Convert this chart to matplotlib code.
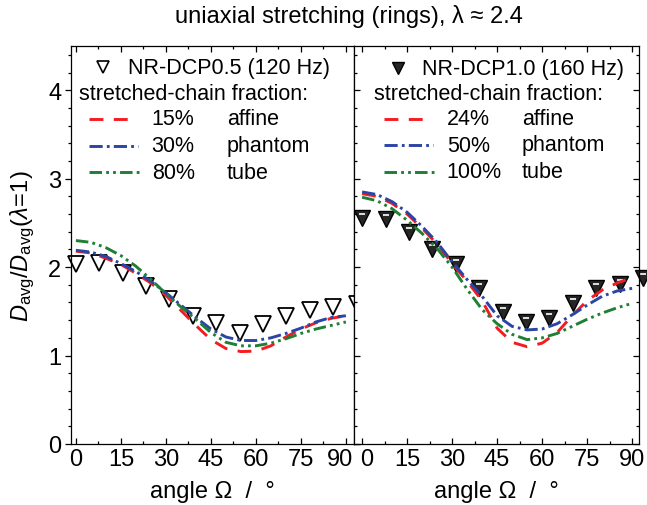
import matplotlib
matplotlib.use("Agg")
import matplotlib.pyplot as plt
from matplotlib.lines import Line2D
from matplotlib.path import Path
from matplotlib.ticker import MultipleLocator
from matplotlib.transforms import ScaledTranslation

plt.rcParams['font.family'] = ['Liberation Sans', 'DejaVu Sans']
plt.rcParams['mathtext.fontset'] = 'custom'
plt.rcParams['mathtext.rm'] = 'Liberation Sans'
plt.rcParams['mathtext.it'] = 'Liberation Sans:italic'
plt.rcParams['lines.scale_dashes'] = False

# measured points (both samples)
angle_exp = [0, 7.8, 15.6, 23.4, 31.2, 39.0, 46.8, 54.6, 62.4, 70.2, 78.0, 85.8, 93.6]
dcp05_exp = [2.03, 2.05, 1.93, 1.79, 1.64, 1.45, 1.37, 1.26, 1.36, 1.45, 1.52, 1.55, 1.58]
dcp10_exp = [2.55, 2.54, 2.40, 2.21, 2.04, 1.76, 1.49, 1.38, 1.42, 1.59, 1.76, 1.81, 1.88]

# model curves
angle_fit = [0, 5, 10, 15, 20, 25, 30, 35, 40, 45, 50, 55, 60, 65, 70, 75, 80, 85, 90]
dcp05_affine = [2.18, 2.16, 2.10, 2.03, 1.93, 1.82, 1.68, 1.51, 1.34, 1.18, 1.08, 1.045, 1.05, 1.11, 1.21, 1.30, 1.37, 1.42, 1.45]
dcp05_phantom = [2.19, 2.17, 2.12, 2.04, 1.95, 1.84, 1.71, 1.57, 1.43, 1.30, 1.21, 1.17, 1.17, 1.20, 1.25, 1.31, 1.38, 1.43, 1.45]
dcp05_tube = [2.30, 2.28, 2.22, 2.13, 2.01, 1.86, 1.70, 1.55, 1.41, 1.26, 1.15, 1.11, 1.11, 1.14, 1.19, 1.25, 1.30, 1.34, 1.38]
dcp10_affine = [2.83, 2.80, 2.72, 2.60, 2.44, 2.26, 2.04, 1.84, 1.62, 1.31, 1.15, 1.10, 1.14, 1.26, 1.45, 1.62, 1.74, 1.82, 1.88]
dcp10_phantom = [2.85, 2.82, 2.74, 2.62, 2.46, 2.28, 2.06, 1.86, 1.67, 1.45, 1.33, 1.29, 1.30, 1.36, 1.46, 1.57, 1.67, 1.73, 1.76]
dcp10_tube = [2.79, 2.75, 2.66, 2.53, 2.38, 2.21, 2.00, 1.75, 1.52, 1.36, 1.24, 1.18, 1.20, 1.25, 1.33, 1.41, 1.48, 1.54, 1.59]

angle_ticks = [0, 15, 30, 45, 60, 75, 90]
samples = ["NR-DCP0.5 (120 Hz)", "NR-DCP1.0 (160 Hz)"]
fractions = [["15%", "30%", "80%"], ["24%", "50%", "100%"]]
models = ["affine", "phantom", "tube"]

RED, BLUE, GREEN = "#f41c22", "#2a45a6", "#1f7f34"
styles = [
    dict(color=RED, dashes=(10, 7.5)),
    dict(color=BLUE, dashes=(9.5, 3, 2, 3)),
    dict(color=GREEN, dashes=(9, 3, 2, 3, 2, 3)),
]
FS = 17     # ticks, axis labels, title
LFS = 15.5  # legend text

W, H = 647, 506
fig = plt.figure(figsize=(W / 100, H / 100), dpi=100)


def fx(px):
    return px / W


def fy(py):
    return 1 - py / H


ax1 = fig.add_axes([fx(70.5), fy(445), 283.5 / W, 398 / H])
ax2 = fig.add_axes([fx(354), fy(445), 285 / W, 398 / H])

# white highlight bar inside the filled triangles
bar = Path([(-1, -1), (-0.42, 0.52), (0.42, 0.52)],
           [Path.MOVETO, Path.MOVETO, Path.LINETO])

ax1.plot(angle_exp, dcp05_exp, ls="none", marker="v", ms=11, mfc="none",
         mec="black", mew=1.3, clip_on=False, zorder=2)
ax2.plot(angle_exp, dcp10_exp, ls="none", marker="v", ms=11, mfc="#262626",
         mec="black", mew=1.0, clip_on=False, zorder=2)
ax2.plot(angle_exp, dcp10_exp, ls="none", marker=bar, ms=11, mfc="none",
         mec="white", mew=1.2, clip_on=False, zorder=2.1)

for ax, curves in ((ax1, (dcp05_affine, dcp05_phantom, dcp05_tube)),
                   (ax2, (dcp10_affine, dcp10_phantom, dcp10_tube))):
    for y, st in zip(curves, styles):
        ax.plot(angle_fit, y, lw=2.1, zorder=3, **st)

for ax, xl in ((ax1, (-1.8, 92.7)), (ax2, (-2.7, 92.3))):
    ax.set_xlim(*xl)
    ax.set_ylim(0, 4.5)
    ax.set_xticks(angle_ticks)
    ax.xaxis.set_minor_locator(MultipleLocator(7.5))
    ax.yaxis.set_major_locator(MultipleLocator(1))
    ax.yaxis.set_minor_locator(MultipleLocator(0.2))
    ax.tick_params(which="both", top=True, right=True, width=0.9, labelsize=FS)
    ax.tick_params(which="major", length=4.5)
    ax.tick_params(which="minor", length=2.5)
    ax.tick_params(axis="x", which="both", bottom=True, direction="out", pad=3)
    ax.tick_params(axis="x", which="both", top=True, direction="in")
    for sp in ax.spines.values():
        sp.set_linewidth(0.9)
    ax.set_xlabel("angle \u03a9  /  \u00b0", fontsize=FS, labelpad=7)

ax1.tick_params(axis="y", which="both", direction="out", pad=2)
ax1.yaxis.set_ticks_position("both")
ax1.tick_params(axis="y", which="both", right=True, labelright=False)
ax2.tick_params(axis="y", which="both", labelleft=False, direction="in")
ax1.set_ylabel(r"$D_{\mathrm{avg}}/D_{\mathrm{avg}}(\lambda\!=\!1)$", fontsize=FS, labelpad=8)

# pull the touching "90" and "0" labels apart at the shared edge
lab = ax1.xaxis.get_major_ticks()[-1].label1
lab.set_transform(lab.get_transform() + ScaledTranslation(-0.06, 0, fig.dpi_scale_trans))
lab = ax2.xaxis.get_major_ticks()[0].label1
lab.set_transform(lab.get_transform() + ScaledTranslation(0.05, 0, fig.dpi_scale_trans))

fig.text(fx(349), fy(17), "uniaxial stretching (rings), \u03bb \u2248 2.4",
         fontsize=FS, ha="center", va="center")

# legends, drawn by hand as in the original
leg_pos = [
    dict(mark=103.3, name=128.3, head=79.3, l0=89.3, l1=(128.3, 138.3, 140), pct=151.7, mod=226.7,
         ys=(68.3, 95, 120, 146.7, 173.3), filled=False),
    dict(mark=398.3, name=421.7, head=374, l0=384.3, l1=(424, 433.3, 436), pct=446.7, mod=521.7,
         ys=(69.3, 95, 120, 146, 172.7), filled=True),
]
for i, p in enumerate(leg_pos):
    ys = p["ys"]
    if p["filled"]:
        fig.add_artist(Line2D([fx(p["mark"])], [fy(ys[0])], marker="v", ms=8, mfc="#262626",
                              mec="black", mew=1.0, ls="none", transform=fig.transFigure))
    else:
        fig.add_artist(Line2D([fx(p["mark"])], [fy(ys[0])], marker="v", ms=8, mfc="none",
                              mec="black", mew=1.2, ls="none", transform=fig.transFigure))
    fig.text(fx(p["name"]), fy(ys[0]), samples[i], fontsize=LFS, va="center")
    fig.text(fx(p["head"]), fy(ys[1]), "stretched-chain fraction:", fontsize=LFS, va="center")
    for j in range(3):
        yy = ys[2 + j]
        fig.add_artist(Line2D([fx(p["l0"]), fx(p["l1"][j])], [fy(yy), fy(yy)], lw=2.1,
                              transform=fig.transFigure, **styles[j]))
        fig.text(fx(p["pct"]), fy(yy), fractions[i][j], fontsize=LFS, va="center")
        fig.text(fx(p["mod"]), fy(yy), models[j], fontsize=LFS, va="center")

fig.savefig("out.png", dpi=100)
